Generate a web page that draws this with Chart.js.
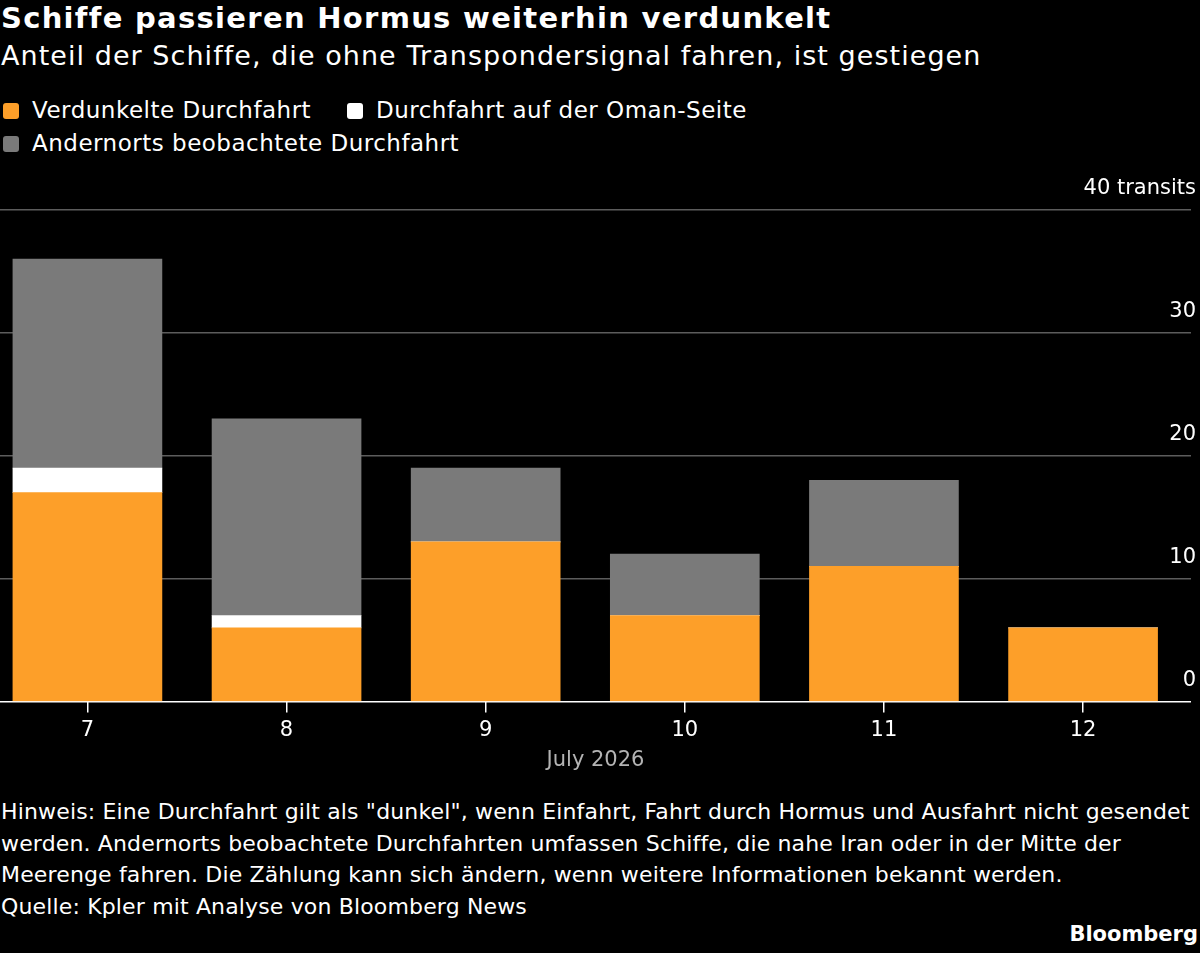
<!DOCTYPE html>
<html lang="de">
<head>
    <meta charset="UTF-8">
    <title>Schiffe passieren Hormus weiterhin verdunkelt</title>
    <script src="https://cdn.jsdelivr.net/npm/chart.js"></script>
    <style>
        body { margin: 0; background: #000; color: #fff; font-family: "DejaVu Sans", sans-serif; width: 1200px; height: 953px; overflow: hidden; position: relative; }
        h1 { position: absolute; left: 1px; top: 1px; margin: 0; font-size: 29px; letter-spacing: 1.3px; font-weight: bold; }
        .sub { position: absolute; left: 1px; top: 40px; font-size: 27px; letter-spacing: 1.05px; }
        .legend { position: absolute; left: 3px; font-size: 23px; letter-spacing: 0.5px; }
        .legend span.item { margin-right: 28px; }
        .sw { display: inline-block; width: 16px; height: 16px; border-radius: 3px; margin-right: 13px; vertical-align: -1px; }
        #wrap { position: absolute; left: 0; top: 170px; width: 1200px; height: 607px; }
        .notes { position: absolute; left: 1px; top: 796px; font-size: 22px; letter-spacing: 0.15px; line-height: 31.5px; }
        .brand { position: absolute; right: 2px; top: 922px; font-size: 21px; font-weight: bold; }
    </style>
</head>
<body>
<h1>Schiffe passieren Hormus weiterhin verdunkelt</h1>
<div class="sub">Anteil der Schiffe, die ohne Transpondersignal fahren, ist gestiegen</div>
<div class="legend" style="top: 97px;">
    <span class="item"><span class="sw" style="background:#fd9f29"></span>Verdunkelte Durchfahrt</span>
    <span class="item"><span class="sw" style="background:#fff"></span>Durchfahrt auf der Oman-Seite</span>
</div>
<div class="legend" style="top: 130px;">
    <span class="item"><span class="sw" style="background:#7a7a7a"></span>Andernorts beobachtete Durchfahrt</span>
</div>
<div id="wrap"><canvas id="chart"></canvas></div>
<div class="notes">
    Hinweis: Eine Durchfahrt gilt als "dunkel", wenn Einfahrt, Fahrt durch Hormus und Ausfahrt nicht gesendet<br>
    werden. Andernorts beobachtete Durchfahrten umfassen Schiffe, die nahe Iran oder in der Mitte der<br>
    Meerenge fahren. Die Zählung kann sich ändern, wenn weitere Informationen bekannt werden.<br>
    Quelle: Kpler mit Analyse von Bloomberg News
</div>
<div class="brand">Bloomberg</div>

<script>
    // Juli 2026, Tage
    const days = [7, 8, 9, 10, 11, 12];
    const darkTransits = [17, 6, 13, 7, 11, 6];
    const omanSide = [2, 1, 0, 0, 0, 0];
    const elsewhere = [17, 16, 6, 5, 7, 0];
    const yTicks = [0, 10, 20, 30, 40];

    const toPoints = arr => arr.map((v, i) => ({ x: days[i], y: v }));

    new Chart(document.getElementById('chart'), {
        type: 'bar',
        data: {
            datasets: [
                { label: 'Verdunkelte Durchfahrt', data: toPoints(darkTransits), backgroundColor: '#fd9f29' },
                { label: 'Durchfahrt auf der Oman-Seite', data: toPoints(omanSide), backgroundColor: '#ffffff' },
                { label: 'Andernorts beobachtete Durchfahrt', data: toPoints(elsewhere), backgroundColor: '#7a7a7a' }
            ]
        },
        options: {
            responsive: true,
            maintainAspectRatio: false,
            animation: false,
            barThickness: 149,
            layout: { padding: { top: 40, left: 0, right: -1 } },
            plugins: { legend: { display: false }, tooltip: { enabled: false } },
            scales: {
                x: {
                    type: 'linear',
                    stacked: true,
                    offset: false,
                    min: 6.561,
                    max: 12.542,
                    border: { display: false },
                    grid: { offset: false, drawOnChartArea: false, color: '#fff', lineWidth: 1.5, tickLength: 11 },
                    afterBuildTicks: axis => { axis.ticks = days.map(d => ({ value: d })); },
                    ticks: { color: '#fff', font: { family: 'DejaVu Sans', size: 21 }, padding: 5 },
                    title: { display: true, text: 'July 2026', color: '#b3b3b3', font: { family: 'DejaVu Sans', size: 21 }, padding: { top: 0 } }
                },
                y: {
                    position: 'right',
                    stacked: true,
                    min: 0,
                    max: 40,
                    border: { display: false },
                    afterBuildTicks: axis => { axis.ticks = yTicks.map(v => ({ value: v })); },
                    grid: {
                        color: ctx => ctx.tick && ctx.tick.value === 0 ? '#ffffff' : '#5c5c5c',
                        lineWidth: 1.5,
                        drawTicks: false
                    },
                    ticks: {
                        mirror: true,
                        padding: 5,
                        labelOffset: -21,
                        color: '#fff',
                        font: { family: 'DejaVu Sans', size: 21 },
                        callback: v => v === 40 ? '40 transits' : v
                    }
                }
            }
        }
    });
</script>
</body>
</html>
